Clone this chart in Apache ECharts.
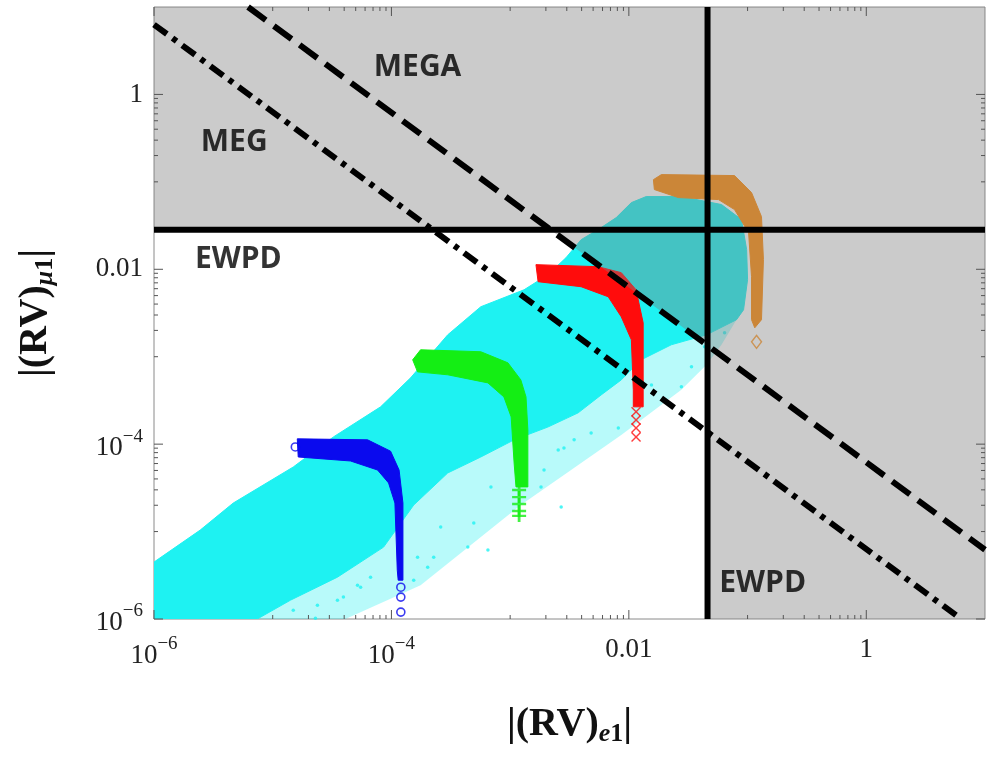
<!DOCTYPE html>
<html>
<head>
<meta charset="utf-8">
<script src="https://cdn.jsdelivr.net/npm/echarts@6/dist/echarts.min.js"></script>
<style>html,body{margin:0;padding:0;background:#fff}#chart{width:992px;height:757px}</style>
</head>
<body>
<div id="chart"></div>
<script>
// ---------- axes ----------
const xRange = [1e-6, 10];
const yRange = [1e-6, 10];
const labelExps = [-6, -4, -2, 0];
const labelTexts = ['{b|10}{s|\u22126}', '{b|10}{s|\u22124}', '{p|0.01}', '{p|1}'];
const majorTicks = [1e-6, 1e-4, 1e-2, 1];
const minorTicks = [1e-5, 2e-5, 3e-5, 4e-5, 5e-5, 6e-5, 7e-5, 8e-5, 9e-5,
                    1e-3, 2e-3, 3e-3, 4e-3, 5e-3, 6e-3, 7e-3, 8e-3, 9e-3,
                    0.1, 0.2, 0.3, 0.4, 0.5, 0.6, 0.7, 0.8, 0.9];
const xTitle = '{a||(RV)}{si|e}{sn|1}{a||}';
const yTitle = '{a||(RV)}{si|\u03bc}{sn|1}{a||}';

// ---------- constraint lines ----------
const ewpdY = 0.0284;   // horizontal EWPD bound on |(RV)mu1|
const ewpdX = 0.046;    // vertical EWPD bound on |(RV)e1|
const megaC = 6.2e-5;   // MEGA: |(RV)e1 (RV)mu1| bound
const megC = 6.3e-6;    // MEG : |(RV)e1 (RV)mu1| bound

// ---------- region labels ----------
const regionNames = ['MEGA', 'MEG', 'EWPD', 'EWPD'];
const regionX = [1.66e-4, 4.74e-6, 5.13e-6, 0.134];
const regionY = [2.04, 0.282, 0.0129, 2.57e-6];

// ---------- scan cloud (cyan) ----------
const cloudDense = [
  [1e-6,1e-6],[1e-6,4.48e-6],[2.45e-6,1.04e-5],[4.65e-6,2.12e-5],[1.49e-5,5.48e-5],[3.25e-5,1.21e-4],
  [8.1e-5,2.67e-4],[1.45e-4,5.73e-4],[2.98e-4,1.78e-3],[5.66e-4,3.73e-3],[1.31e-3,5.83e-3],[2.08e-3,8.67e-3],
  [2.96e-3,1.36e-2],[3.96e-3,2.18e-2],[5.85e-3,0.03],[7.83e-3,0.039],[1.05e-2,0.0579],[1.4e-2,0.0679],
  [2.77e-2,0.0679],[6.03e-2,0.055],[8.89e-2,0.037],[9.82e-2,0.0168],[0.1,7.6e-3],[9.25e-2,3.44e-3],
  [8.07e-2,2.65e-3],[4.51e-2,1.78e-3],[2.28e-2,1.37e-3],[1.27e-2,9.22e-4],[8.63e-3,5.43e-4],[5.85e-3,3.66e-4],
  [3.74e-3,2.28e-4],[2.08e-3,1.57e-4],[1.08e-3,1.12e-4],[5.66e-4,7.13e-5],[2.98e-4,4.68e-5],[1.54e-4,2.01e-5],
  [8.59e-5,6.64e-6],[3.51e-5,3.01e-6],[1.41e-5,1.64e-6],[7.41e-6,1e-6]
];
const cloudFringe = [
  [7.41e-6,1e-6],[4.1e-5,1e-6],[1.76e-4,2.44e-6],[4.67e-4,7.0e-6],[1.23e-3,2.01e-5],[3.26e-3,5.06e-5],
  [8.63e-3,1.27e-4],[2.77e-2,4.18e-4],[4.51e-2,8.07e-4],[6.03e-2,1.37e-3],[8.07e-2,2.65e-3],
  [4.51e-2,1.78e-3],[2.28e-2,1.37e-3],[1.27e-2,9.22e-4],[8.63e-3,5.43e-4],[5.85e-3,3.66e-4],[3.74e-3,2.28e-4],
  [2.08e-3,1.57e-4],[1.08e-3,1.12e-4],[5.66e-4,7.13e-5],[2.98e-4,4.68e-5],[1.54e-4,2.01e-5],[8.59e-5,6.64e-6],
  [3.51e-5,3.01e-6],[1.41e-5,1.64e-6]
];
const cloudStray = [
  [3.94e-5,1.78e-6],[5.18e-5,2.44e-6],[6.67e-5,3.01e-6],[1.54e-4,2.78e-6],[1.66e-4,5.1e-6],[2.02e-4,3.92e-6],
  [2.27e-4,5.1e-6],[4.94e-4,1.25e-5],[6.5e-4,6.14e-6],[4.4e-4,6.64e-6],[2.6e-4,1.13e-5],[1.93e-3,5.06e-5],
  [2.84e-3,9.05e-5],[2.69e-3,1.91e-5],[1.82e-3,3.24e-5],[6.89e-4,3.24e-5],[2.54e-3,8.59e-5],[8.15e-3,1.53e-4],
  [2.77e-2,4.52e-4],[1.55e-2,4.76e-4],[3.46e-3,1.12e-4],[4.81e-3,1.34e-4],[8.4e-2,3.18e-3],[6.4e-2,1.88e-3],
  [5.69e-2,1.11e-3],[4.34e-2,1.3e-3],[3.37e-2,7.66e-4],[2.29e-5,1.02e-6],[1.49e-5,1.26e-6],[2.38e-5,1.44e-6],
  [3.51e-5,1.64e-6],[5.5e-5,2.31e-6]
];

// ---------- benchmark bands ----------
const blueBand = [
  [1.61e-5,1.15e-4],[6.3e-5,1.12e-4],[9.84e-5,8.3e-5],[1.16e-4,5.06e-5],[1.25e-4,2.12e-5],[1.25e-4,2.78e-6],
  [1.14e-4,2.78e-6],[1.12e-4,3.62e-6],[1.07e-4,2.12e-5],[9.46e-5,3.6e-5],[7.64e-5,5.06e-5],[4.52e-5,6.42e-5],
  [1.64e-5,7.13e-5]
];
const blueEnds = [[1.55e-5,9.29e-5],[1.2e-4,2.31e-6],[1.2e-4,1.78e-6],[1.2e-4,1.2e-6]];

const greenBand = [
  [1.51e-4,9.22e-4],[1.76e-4,1.2e-3],[5.66e-4,1.14e-3],[9.57e-4,8.51e-4],[1.23e-3,5.43e-4],[1.36e-3,3.47e-4],
  [1.41e-3,1.46e-4],[1.41e-3,3.24e-5],[1.12e-3,3.24e-5],[1.08e-3,6.09e-5],[1.02e-3,2.05e-4],[8.86e-4,3.47e-4],
  [6.5e-4,5.02e-4],[2.98e-4,6.21e-4],[1.66e-4,6.71e-4]
];
const greenEnds = [[1.19e-3,2.99e-5],[1.19e-3,2.48e-5],[1.19e-3,2.07e-5],[1.19e-3,1.72e-5],[1.19e-3,1.51e-5]];

const redBand = [
  [1.65e-3,1.13e-2],[5.51e-3,1.07e-2],[8.63e-3,9.15e-3],[1.15e-2,5.83e-3],[1.32e-2,2.44e-3],[1.32e-2,2.67e-4],
  [1.09e-2,2.67e-4],[1.09e-2,4.18e-4],[1.05e-2,1.56e-3],[8.63e-3,2.86e-3],[6.7e-3,4.85e-3],[3.96e-3,6.32e-3],
  [1.72e-3,7.21e-3]
];
const redEnds = [[1.15e-2,2.34e-4],[1.15e-2,1.89e-4],[1.15e-2,1.53e-4],[1.15e-2,1.21e-4]];

const orangeBand = [
  [1.61e-2,0.106],[1.88e-2,0.121],[7.76e-2,0.118],[0.108,0.0754],[0.131,0.04],[0.136,0.0129],[0.131,2.65e-3],
  [0.115,2.14e-3],[0.108,2.65e-3],[0.108,8.22e-3],[0.102,0.0263],[7.76e-2,0.0482],[5.69e-2,0.0627],
  [2.61e-2,0.0661],[1.64e-2,0.0816]
];
const orangeEnds = [[0.119,1.48e-3]];

// ---------- excluded (grey) region, built from the bounds ----------
const excluded = [
  [xRange[0], ewpdY], [megaC / ewpdY, ewpdY], [ewpdX, megaC / ewpdX], [ewpdX, yRange[0]],
  [xRange[1], yRange[0]], [xRange[1], yRange[1]], [xRange[0], yRange[1]]
];

// ---------- helpers ----------
function polygonSeries(verts, fill, z, stroke) {
  return {
    type: 'custom', z: z, silent: true, clip: true, data: verts,
    renderItem: function (params, api) {
      if (params.dataIndex !== 0) return null;
      const pts = verts.map(function (v) { return api.coord(v); });
      return { type: 'polygon', shape: { points: pts },
        style: { fill: fill, stroke: stroke || null, lineWidth: stroke ? 1 : 0 } };
    }
  };
}
function tickSeries(vals, axis, len) {
  const data = vals.map(function (v) { return axis === 'x' ? [v, 1] : [1, v]; });
  return {
    type: 'custom', z: 7, silent: true, data: data,
    renderItem: function (params, api) {
      const cs = params.coordSys;
      const p = api.coord([api.value(0), api.value(1)]);
      const st = { stroke: '#555', lineWidth: 1 };
      if (axis === 'x') {
        const b = cs.y + cs.height, t = cs.y;
        return { type: 'group', children: [
          { type: 'line', shape: { x1: p[0], y1: b, x2: p[0], y2: b - len }, style: st },
          { type: 'line', shape: { x1: p[0], y1: t, x2: p[0], y2: t + len }, style: st }
        ] };
      }
      const l = cs.x, r = cs.x + cs.width;
      return { type: 'group', children: [
        { type: 'line', shape: { x1: l, y1: p[1], x2: l + len, y2: p[1] }, style: st },
        { type: 'line', shape: { x1: r, y1: p[1], x2: r - len, y2: p[1] }, style: st }
      ] };
    }
  };
}
function lineSeries(pts, type, z) {
  return { type: 'line', z: z, silent: true, symbol: 'none', animation: false, data: pts,
    lineStyle: { color: '#000', width: 6, type: type, cap: 'butt' } };
}
function labelFmt(v) {
  const e = Math.round(Math.log10(v));
  const i = labelExps.indexOf(e);
  return i < 0 ? '' : labelTexts[i];
}
const serif = 'Liberation Serif';
const tickRich = {
  b: { fontFamily: serif, fontSize: 27, lineHeight: 34, verticalAlign: 'bottom', color: '#222' },
  s: { fontFamily: serif, fontSize: 19, lineHeight: 18, verticalAlign: 'top', color: '#222' },
  p: { fontFamily: serif, fontSize: 27, lineHeight: 30, color: '#222' }
};
const titleRich = {
  a: { fontFamily: serif, fontWeight: 'bold', fontSize: 40, lineHeight: 44, color: '#111' },
  si: { fontFamily: serif, fontWeight: 'bold', fontStyle: 'italic', fontSize: 26, lineHeight: 18, verticalAlign: 'bottom', color: '#111' },
  sn: { fontFamily: serif, fontWeight: 'bold', fontSize: 26, lineHeight: 18, verticalAlign: 'bottom', color: '#111' }
};

const chart = echarts.init(document.getElementById('chart'), null, { renderer: 'canvas' });
chart.setOption({
  animation: false,
  backgroundColor: '#fff',
  grid: { left: 154, right: 7, top: 7, bottom: 138, show: true, borderColor: '#8a8a8a', borderWidth: 1, backgroundColor: 'transparent' },
  xAxis: {
    type: 'log', logBase: 10, min: xRange[0], max: xRange[1], splitNumber: 7,
    axisLine: { show: false }, axisTick: { show: false }, splitLine: { show: false },
    axisLabel: { formatter: labelFmt, rich: tickRich, interval: 0, hideOverlap: false, margin: 16, verticalAlign: 'top' },
    name: xTitle, nameLocation: 'middle', nameGap: 84, nameTextStyle: { rich: titleRich }
  },
  yAxis: {
    type: 'log', logBase: 10, min: yRange[0], max: yRange[1], splitNumber: 7,
    axisLine: { show: false }, axisTick: { show: false }, splitLine: { show: false },
    axisLabel: { formatter: labelFmt, rich: tickRich, interval: 0, hideOverlap: false, margin: 11 },
    name: yTitle, nameLocation: 'middle', nameGap: 96, nameTextStyle: { rich: titleRich }
  },
  series: [
    polygonSeries(cloudFringe, 'rgba(20,240,240,0.30)', 1),
    polygonSeries(cloudDense, '#1ef2f2', 2, '#1ef2f2'),
    { type: 'scatter', z: 3, silent: true, symbolSize: 3.5, data: cloudStray, itemStyle: { color: '#1ef2f2' } },
    polygonSeries(blueBand, '#0a0aee', 4, '#0a0aee'),
    polygonSeries(greenBand, '#14ee14', 4, '#14ee14'),
    polygonSeries(redBand, '#ff0c0c', 4, '#ff0c0c'),
    polygonSeries(orangeBand, 'rgb(255,140,10)', 4, 'rgb(255,140,10)'),
    { type: 'scatter', z: 4, silent: true, symbol: 'circle', symbolSize: 8, data: blueEnds,
      itemStyle: { color: 'rgba(0,0,0,0)', borderColor: '#0a0aee', borderWidth: 1.6 } },
    { type: 'scatter', z: 4, silent: true, symbol: 'path://M4,0H6V4H10V6H6V10H4V6H0V4H4Z', symbolSize: [14, 12], data: greenEnds,
      itemStyle: { color: '#14ee14' } },
    { type: 'scatter', z: 4, silent: true, symbol: 'path://M0,1L1,0L5,4L9,0L10,1L6,5L10,9L9,10L5,6L1,10L0,9L4,5Z', symbolSize: 10, data: redEnds,
      itemStyle: { color: '#ff0c0c' } },
    { type: 'scatter', z: 4, silent: true, symbol: 'diamond', symbolSize: [10, 13], data: orangeEnds,
      itemStyle: { color: 'rgba(0,0,0,0)', borderColor: 'rgb(255,140,10)', borderWidth: 1.4 } },
    polygonSeries(excluded, 'rgba(126,126,126,0.4)', 5),
    lineSeries([[xRange[0], ewpdY], [xRange[1], ewpdY]], 'solid', 6),
    lineSeries([[ewpdX, yRange[0]], [ewpdX, yRange[1]]], 'solid', 6),
    lineSeries([[megaC / yRange[1], yRange[1]], [xRange[1], megaC / xRange[1]]], [22, 10], 6),
    lineSeries([[xRange[0], megC / xRange[0]], [megC / yRange[0], yRange[0]]], [16, 7, 5, 7], 6),
    tickSeries(majorTicks, 'x', 9),
    tickSeries(minorTicks, 'x', 4),
    tickSeries(majorTicks, 'y', 9),
    tickSeries(minorTicks, 'y', 4),
    { type: 'scatter', z: 8, silent: true, symbolSize: 1,
      data: regionNames.map(function (n, i) { return [regionX[i], regionY[i]]; }),
      itemStyle: { color: 'rgba(0,0,0,0)' },
      label: { show: true, position: 'inside', color: '#000', fontFamily: 'Open Sans', fontWeight: 'bold', fontSize: 30,
        formatter: function (p) { return regionNames[p.dataIndex]; } } }
  ]
});
</script>
</body>
</html>
